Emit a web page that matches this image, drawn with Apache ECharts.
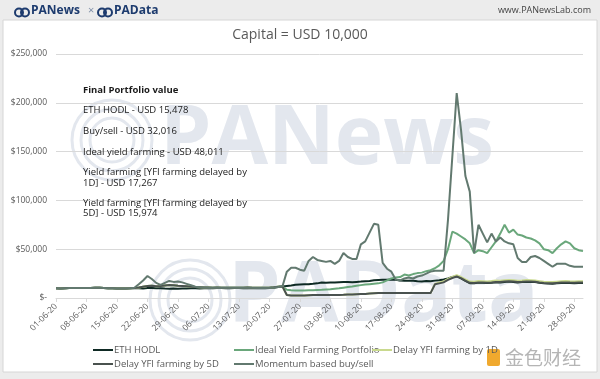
<!DOCTYPE html>
<html>
<head>
<meta charset="utf-8">
<script src="https://cdn.jsdelivr.net/npm/echarts@6/dist/echarts.min.js"></script>
<style>
html,body{margin:0;padding:0;background:#ececec;}
#chart{width:600px;height:379px;}
</style>
</head>
<body>
<div id="chart"></div>
<script>
// ---- Data ----
const seriesNames = ['ETH HODL','Ideal Yield Farming Portfolio','Delay YFI farming by 1D','Delay YFI farming by 5D','Momentum based buy/sell'];
const yTicks = [0, 50000, 100000, 150000, 200000, 250000];

// daily categories 01-06-20 .. 30-09-20
const dates = [];
(function(){
  const months = [[6,30],[7,31],[8,31],[9,30]];
  months.forEach(function(m){
    for (let d = 1; d <= m[1]; d++) {
      dates.push((d<10?'0':'')+d+'-0'+m[0]+'-20');
    }
  });
})();

const ethHodl = [
10000,9800,10100,10300,10200,10300,10200,10300,10300,10400,
10500,10300,9900,10000,9800,9700,9800,9900,10000,9900,
9800,10300,10200,10000,9900,9700,9600,9700,9600,9700,
9800,9900,9900,9800,9900,10200,10000,10300,10200,10100,
10100,10200,10200,10100,10300,10100,10000,10000,10000,10200,
10500,11200,11800,12300,12800,13500,13800,14000,14200,14500,
15000,15800,15500,15800,16000,16200,16400,16300,16200,16500,
16800,17200,17500,18200,18500,18800,18600,18900,18800,18000,
17600,17800,17600,17200,17000,17300,17200,17800,18200,19000,
20000,21500,22300,20000,17500,15200,15000,15800,15600,15400,
15600,16200,16000,16500,16800,16500,16000,16300,16700,16500,
16300,15600,15000,14800,14700,15000,15400,15600,15300,15200,
15400,15478];

const idealFarming = [
10000,9800,10100,10300,10200,10300,10200,10300,10300,10400,
10500,10300,9900,10000,9800,9700,9800,9900,
10200,10800,11500,12200,12500,12000,12300,12800,13200,13000,12600,12400,
12000,11600,11200,11000,10800,10700,10600,10700,10600,10500,
10500,10600,10600,10500,10700,10500,10400,10400,10400,10600,
10900,11500,11800,
8500,8000,7800,7800,7800,7900,8000,
8200,8400,8700,9000,9500,10000,10600,11200,11800,12500,
13200,13800,14200,14600,15000,16000,18000,20000,21000,21500,
24000,23000,24500,25500,26000,27500,28500,30500,33500,38000,
50000,68000,66000,63000,60000,56000,46000,49000,48000,46000,
52000,58000,66000,75000,67000,70000,65000,64000,62000,61000,
59000,56000,50000,49000,46000,51000,55000,58000,56000,51000,
49000,48011];

const delay1D = [
10000,9800,10100,10300,10200,10300,10200,10300,10300,10400,
10500,10300,9900,10000,9800,9700,9800,9900,
10200,10800,11500,12200,12500,12000,12300,12800,13200,13000,12600,12400,
12000,11600,11200,11000,10800,10700,10600,10700,10600,10500,
10500,10600,10600,10500,10700,10500,10400,10400,10400,10600,
10900,11500,11800,
3000,2500,2500,2500,2600,2800,3000,
3000,3000,3000,3000,3100,3200,3300,3500,3600,3800,
4000,4200,4500,4800,5000,5000,5000,5000,5000,5000,
5000,5000,5000,5000,5000,5000,5000,
14500,16000,17000,19500,21500,23500,21500,19000,16800,16600,
17400,17200,17000,17300,17900,17700,18200,18500,18200,17700,
18000,18400,18200,18000,17300,16600,16400,16300,16700,17100,
17300,17100,17000,17200,17267];

const delay5D = [
10000,9800,10100,10300,10200,10300,10200,10300,10300,10400,
10500,10300,9900,10000,9800,9700,9800,9900,
10200,10800,11500,12200,12500,12000,12300,12800,13200,13000,12600,12400,
12000,11600,11200,11000,10800,10700,10600,10700,10600,10500,
10500,10600,10600,10500,10700,10500,10400,10400,10400,10600,
10900,11500,11800,
3000,2500,2500,2500,2600,2800,3000,
3000,3000,3000,3000,3100,3200,3300,3500,3600,3800,
4000,4200,4500,4800,5000,5000,5000,5000,5000,5000,
5000,5000,5000,5000,5000,5000,5000,14000,15000,16000,
18500,20500,22000,20300,17800,15500,15300,16000,15900,15700,
15900,16500,16300,16800,17100,16800,16300,16600,17000,16800,
16600,15900,15300,15100,15000,15400,15800,16000,15800,15700,
15900,15974];

const momentum = [
10000,9800,10100,10300,10200,10300,10200,10300,10300,10400,
10500,10300,9900,10000,9800,9700,9800,9900,
10500,14000,18000,22500,19500,15500,13500,15500,17500,16500,17000,16000,
14500,13000,11500,11000,10800,10600,10500,10600,10500,10400,
10400,10500,10500,10400,10600,10400,10300,10300,10300,10500,
10800,11200,12000,
27000,31000,31000,29000,28000,38000,42000,
39000,38000,37000,38000,35000,38000,46000,42000,40000,40000,
55000,58000,67000,76000,75000,36000,30000,27000,19000,18000,
20000,21000,20000,22000,23000,25000,27000,28000,28000,28000,
80000,145000,210000,172000,125000,109000,46000,75000,66000,57000,
66000,58000,62000,58000,56000,55000,41000,37000,37000,42000,
43000,41000,38000,35000,32000,35000,35000,35000,33000,32000,
32000,32016];

const seriesData = [ethHodl, idealFarming, delay1D, delay5D, momentum];
const colors = ['#0f2a24','#6aa77b','#c9d98e','#4a524f','#62796f'];

const noteLines = [
  ['Final Portfolio value', 91, true],
  ['ETH HODL - USD 15,478', 111, false],
  ['Buy/sell - USD 32,016', 132, false],
  ['Ideal yield farming - USD 48,011', 153, false],
  ['Yield farming [YFI farming delayed by', 173, false],
  ['1D] - USD 17,267', 184, false],
  ['Yield farming [YFI farming delayed by', 204, false],
  ['5D] - USD 15,974', 214, false]
];

const FONT = '"Open Sans", "Noto Sans", sans-serif';
const chart = echarts.init(document.getElementById('chart'), null, {renderer:'canvas'});

const legendPos = [[93,345],[234,345],[372,345],[93,359],[234,359]];
const WM = '#e3e7ee';

const graphics = [
  {type:'rect', shape:{x:3,y:20,width:594,height:352}, style:{fill:'#ffffff', stroke:'#d6d6d6', lineWidth:1}, z:-10},
  // header logos
  {type:'circle', shape:{cx:19,cy:12.5,r:4}, style:{fill:'none', stroke:'#1d3b6e', lineWidth:2}, z:-5},
  {type:'circle', shape:{cx:25,cy:12.5,r:4}, style:{fill:'none', stroke:'#1d3b6e', lineWidth:2}, z:-5},
  {type:'text', x:31, y:5, style:{text:'PANews', font:'bold 12px "Open Sans", sans-serif', fill:'#1d3b6e'}, z:-5},
  {type:'text', x:88, y:5, style:{text:'×', font:'11px "Open Sans", sans-serif', fill:'#8090a8'}, z:-5},
  {type:'circle', shape:{cx:102,cy:12.5,r:4}, style:{fill:'none', stroke:'#1d3b6e', lineWidth:2}, z:-5},
  {type:'circle', shape:{cx:108,cy:12.5,r:4}, style:{fill:'none', stroke:'#1d3b6e', lineWidth:2}, z:-5},
  {type:'text', x:114, y:5, style:{text:'PAData', font:'bold 12px "Open Sans", sans-serif', fill:'#1d3b6e'}, z:-5},
  {type:'text', right:9, top:6, style:{text:'www.PANewsLab.com', font:'9px "Open Sans", sans-serif', fill:'#444'}, z:-5},
  // watermarks
  {type:'circle', shape:{cx:112,cy:140,r:40}, style:{fill:'none', stroke:WM, lineWidth:3}, z:-4},
  {type:'circle', shape:{cx:112,cy:140,r:31}, style:{fill:'none', stroke:WM, lineWidth:3}, z:-4},
  {type:'circle', shape:{cx:112,cy:140,r:22}, style:{fill:'none', stroke:WM, lineWidth:3}, z:-4},
  {type:'text', x:160, y:100, style:{text:'PANews', font:'bold 82px "Open Sans", sans-serif', fill:WM}, z:-4},
  {type:'circle', shape:{cx:190,cy:300,r:40}, style:{fill:'none', stroke:WM, lineWidth:3}, z:-4},
  {type:'circle', shape:{cx:190,cy:300,r:31}, style:{fill:'none', stroke:WM, lineWidth:3}, z:-4},
  {type:'circle', shape:{cx:190,cy:300,r:22}, style:{fill:'none', stroke:WM, lineWidth:3}, z:-4},
  {type:'text', x:228, y:255, style:{text:'PAData', font:'bold 84px "Open Sans", sans-serif', fill:WM}, z:-4},
  // jinse logo
  {type:'rect', shape:{x:487,y:349,width:13,height:17, r:2}, style:{fill:'#f0a92e'}, z:-3},
  {type:'text', x:505, y:348, style:{text:'金色财经', font:'19px "Noto Sans CJK SC", sans-serif', fill:'#b5b5b5'}, z:-3}
];
noteLines.forEach(function(n){
  graphics.push({type:'text', x:83, y:n[1]-6, style:{text:n[0], font:(n[2]?'bold ':'')+'9.5px '+FONT, fill:'#1a1a1a'}, z:50});
});

const option = {
  animation:false,
  backgroundColor:'#ececec',
  textStyle:{fontFamily:FONT},
  title:{text:'Capital = USD 10,000', left:'center', top:23, textStyle:{fontSize:14, fontWeight:'normal', color:'#595959', fontFamily:FONT}},
  grid:{left:56, right:17, top:54, bottom:81, containLabel:false},
  legend: seriesNames.map(function(n,i){
    return {data:[n], left:legendPos[i][0], top:legendPos[i][1], icon:'rect', itemWidth:20, itemHeight:2,
      textStyle:{fontSize:9.5, color:'#595959', fontFamily:FONT, padding:[0,0,0,-4]}, selectedMode:false, padding:0};
  }),
  xAxis:{type:'category', data:dates, boundaryGap:false,
    axisLine:{lineStyle:{color:'#d9d9d9'}},
    axisTick:{show:true, interval:6, length:4, lineStyle:{color:'#d9d9d9'}},
    axisLabel:{interval:6, rotate:45, fontSize:8.5, color:'#595959', margin:7, fontFamily:FONT}},
  yAxis:{type:'value', min:0, max:250000, interval:50000,
    axisLine:{show:false}, axisTick:{show:false},
    splitLine:{lineStyle:{color:'#d9d9d9', width:1}},
    axisLabel:{fontSize:8.5, color:'#595959', margin:9, fontFamily:FONT,
      formatter:function(v){ return v===0 ? '$-' : '$' + v.toLocaleString('en-US'); }}},
  series: seriesNames.map(function(n,i){
    return {name:n, type:'line', data:seriesData[i], showSymbol:false, symbol:'none',
      lineStyle:{color:colors[i], width:2}, itemStyle:{color:colors[i]}, z:2+i};
  }),
  graphic: graphics
};
chart.setOption(option);
</script>
</body>
</html>
